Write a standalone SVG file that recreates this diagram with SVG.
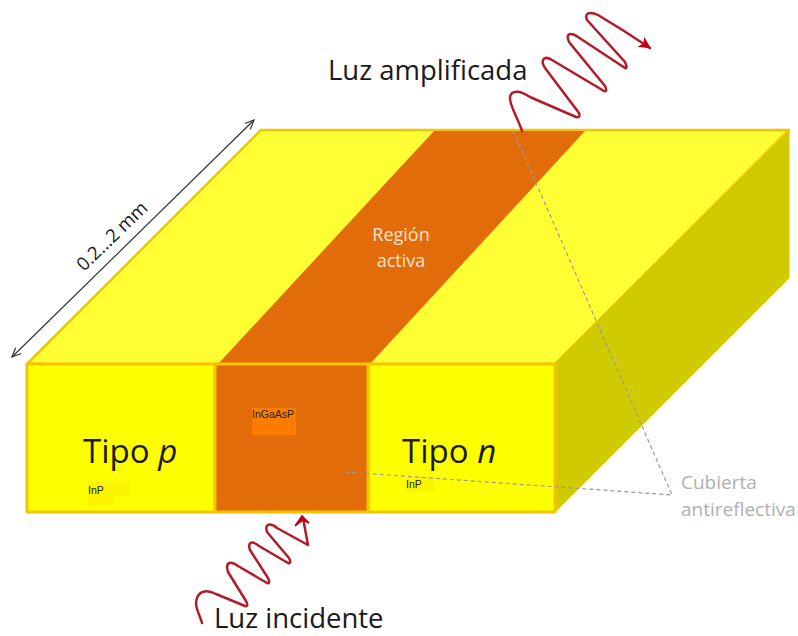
<svg xmlns="http://www.w3.org/2000/svg" width="798" height="636" viewBox="0 0 798 636">
<style>
text{font-family:"Open Sans","Noto Sans","Liberation Sans",sans-serif;fill:#1a1a1a}
.f{stroke:#f5c400;stroke-width:3;stroke-linejoin:round}
.w{fill:none;stroke:#b01c2a;stroke-width:2.5;stroke-linecap:round;stroke-linejoin:round}
.d{fill:none;stroke:#9a9aa0;stroke-width:1.2;stroke-dasharray:4 3}
.s{font-family:"Liberation Sans",sans-serif;font-size:10.5px;fill:#222}
.g{fill:#b0b0b0;font-size:19px}
.l{font-size:18px;text-anchor:middle;fill:#fbe5d0}
</style>
<defs>
<marker id="a" markerWidth="12" markerHeight="12" refX="10" refY="5" orient="auto-start-reverse" markerUnits="userSpaceOnUse"><path d="M1,1L10,5L1,9" fill="none" stroke="#333" stroke-width="1.2"/></marker>
<marker id="r" markerWidth="14" markerHeight="14" refX="11" refY="6" orient="auto" markerUnits="userSpaceOnUse"><path d="M0,0L12,6L0,12L3,6Z" fill="#c00018"/></marker>
</defs>
<rect width="798" height="636" fill="#fff"/>
<g id="top-face"><polygon points="27,364 261,130 789,130 555,364" fill="#ffff33" stroke="#f5c400" stroke-width="2.5" stroke-linejoin="round"/></g>
<g id="side-face"><polygon points="555,364 789,131 789,278 555,512" fill="#cfcb00" stroke="#d8c800" stroke-width="1"/></g>
<g id="active-strip"><polygon points="218,364 434,131 585,131 370,364" fill="#e36c0a"/></g>
<g id="tipo-p"><rect class="f" x="27" y="364" width="188" height="148" fill="#ffff00"/>
<rect x="88" y="482" width="42" height="14" fill="#fbf500"/><rect x="88" y="496" width="26" height="10" fill="#fbf500"/>
<text x="83" y="463" font-size="33">Tipo <tspan font-style="italic">p</tspan></text>
<text class="s" x="88" y="494">InP</text></g>
<g id="tipo-n"><rect class="f" x="368" y="364" width="187" height="148" fill="#ffff00"/>
<rect x="406" y="477" width="28" height="15" fill="#fbf500"/>
<text x="402" y="463" font-size="33">Tipo <tspan font-style="italic">n</tspan></text>
<text class="s" x="406" y="488">InP</text></g>
<g id="ingaasp"><rect class="f" x="215" y="364" width="153" height="148" fill="#e36c0a"/>
<rect x="252" y="408" width="44" height="27" fill="#ff7c00"/>
<text class="s" x="252" y="418">InGaAsP</text></g>
<g id="region-activa">
<text class="l" x="401" y="241">Región</text>
<text class="l" x="401" y="267">activa</text></g>
<g id="connectors">
<path class="d" d="M345,472L672,495L513,130"/>
<path d="M12,357L254,120" stroke="#333" stroke-width="1.2" fill="none" marker-start="url(#a)" marker-end="url(#a)"/>
<path class="w" marker-end="url(#r)" d="M522,131C518,118 509,105 510,97C512,88 522,92 530,97L576,117Q581,118 579,113L545,68C540,60 544,55 552,60L604,91Q608,92 605,86L569,42C565,33 571,32 578,37L625,68Q628,69 625,62L587,20C584,13 590,11 598,15Q625,31 650,48"/>
<path class="w" d="M202,623C199,613 194,606 197,598C200,590 208,590 216,594L245,606Q249,607 246,601L228,572C225,561 231,561 238,566L267,583Q271,584 268,578L250,550C247,541 253,541 259,546L288,563Q292,564 289,558L267,532C264,523 271,523 277,528L308,545L303,518"/>
<path d="M295,526L302,516L309,523L303,520Z" fill="#c00018" stroke="#c00018" stroke-width="1.5"/>
</g>
<g id="labels">
<text x="328" y="80" font-size="27.5">Luz amplificada</text>
<text x="214" y="628" font-size="27.5">Luz incidente</text>
<text class="g" x="681" y="489">Cubierta</text>
<text class="g" x="681" y="516">antireflectiva</text>
<text x="0" y="0" font-size="18.5" transform="translate(84,272) rotate(-44)">0.2...2 mm</text>
</g>
</svg>
